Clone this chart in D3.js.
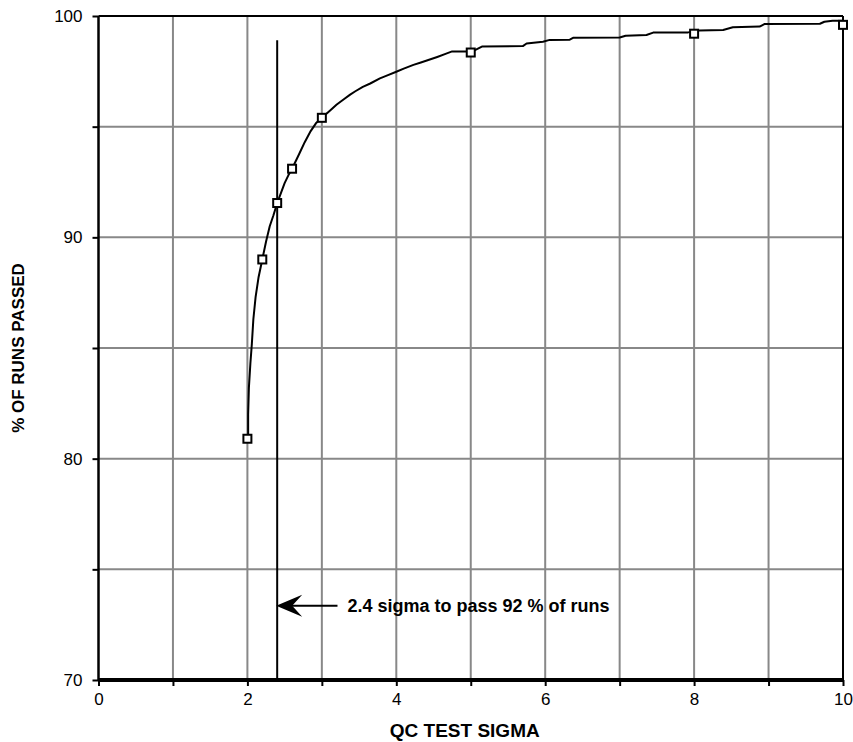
<!DOCTYPE html>
<html>
<head>
<meta charset="utf-8">
<script src="https://cdn.jsdelivr.net/npm/d3@7"></script>
<style>
    body { margin: 0; background: #fff; }
    #chart { width: 853px; height: 742px; }
    text { font-family: "Liberation Sans", Arial, sans-serif; }
</style>
</head>
<body>
<div id="chart"></div>
<script>

// Points marked with squares (QC test sigma, % of runs passed)
const markerSigma = [2, 2.2, 2.4, 2.6, 3, 5, 8, 10];
const markerPassed = [80.9, 89.0, 91.55, 93.1, 95.4, 98.35, 99.2, 99.6];

// Pass curve
const curveSigma = [2.01, 2.01, 2.02, 2.04, 2.06, 2.08, 2.11, 2.15, 2.2, 2.25, 2.3, 2.35, 2.4, 2.45, 2.5, 2.55,
    2.6, 2.7, 2.77, 2.85, 2.92, 3.0, 3.1, 3.2, 3.3, 3.38, 3.45, 3.55, 3.65, 3.78, 3.88, 4.0, 4.1, 4.23, 4.33,
    4.43, 4.55, 4.67, 4.75, 4.97, 5.05, 5.15, 5.7, 5.75, 5.97, 6.06, 6.33, 6.38, 7.0, 7.08, 7.36, 7.45, 7.92,
    8.07, 8.39, 8.52, 8.88, 8.95, 9.69, 9.75, 9.86, 10.0];
const curvePassed = [80.9, 82.0, 83.2, 84.3, 85.2, 86.3, 87.3, 88.2, 89.0, 89.8, 90.5, 91.0, 91.55, 92.0, 92.45, 92.8,
    93.1, 93.8, 94.3, 94.8, 95.15, 95.4, 95.7, 96.0, 96.25, 96.45, 96.6, 96.8, 96.95, 97.18, 97.32, 97.48, 97.62, 97.79, 97.9,
    98.01, 98.15, 98.3, 98.4, 98.4, 98.45, 98.62, 98.64, 98.76, 98.84, 98.92, 98.93, 99.02, 99.03, 99.11, 99.14, 99.25, 99.26,
    99.34, 99.37, 99.49, 99.52, 99.64, 99.65, 99.74, 99.79, 99.79];

// Cut-off line and its note
const cutoffSigma = 2.4;
const cutoffTop = 98.9;
const arrowFrom = [3.21, 73.35];
const noteText = "2.4 sigma to pass 92 % of runs";

// Axis ticks
const xTickValues = [0, 1, 2, 3, 4, 5, 6, 7, 8, 9, 10];
const xTickLabels = [0, 2, 4, 6, 8, 10];
const yTickValues = [70, 75, 80, 85, 90, 95, 100];
const yTickLabels = [70, 80, 90, 100];
const xTitle = "QC TEST SIGMA";
const yTitle = "% OF RUNS PASSED";


class SigmaChart {
    constructor(parentElement){
        this.parentElement = parentElement;
        this.initVis();
    }

    initVis(){
        let vis = this;

        vis.margin = {top: 16, right: 10, bottom: 62, left: 98.5};
        vis.width = 853 - vis.margin.left - vis.margin.right;
        vis.height = 742 - vis.margin.top - vis.margin.bottom;

        vis.svg = d3.select("#" + vis.parentElement).append("svg")
            .attr("width", 853)
            .attr("height", 742)
            .append("g")
            .attr("transform", `translate(${vis.margin.left}, ${vis.margin.top})`);

        // Scales
        vis.x = d3.scaleLinear().domain([0, 10]).range([0, vis.width]);
        vis.y = d3.scaleLinear().domain([70, 100]).range([vis.height, 0]);

        // Grid
        vis.svg.append("g")
            .attr("class", "grid")
            .selectAll("line.vgrid")
            .data(xTickValues.slice(1, -1))
            .enter().append("line")
            .attr("x1", d => vis.x(d)).attr("x2", d => vis.x(d))
            .attr("y1", 0).attr("y2", vis.height)
            .attr("stroke", "#888").attr("stroke-width", 2);

        vis.svg.select(".grid")
            .selectAll("line.hgrid")
            .data(yTickValues.slice(1, -1))
            .enter().append("line")
            .attr("x1", 0).attr("x2", vis.width)
            .attr("y1", d => vis.y(d)).attr("y2", d => vis.y(d))
            .attr("stroke", "#888").attr("stroke-width", 2);

        // Frame top and right
        vis.svg.append("line")
            .attr("x1", 0).attr("x2", vis.x(10))
            .attr("y1", vis.y(100)).attr("y2", vis.y(100))
            .attr("stroke", "#000").attr("stroke-width", 2);
        vis.svg.append("line")
            .attr("x1", vis.x(10)).attr("x2", vis.x(10))
            .attr("y1", vis.y(100)).attr("y2", vis.height)
            .attr("stroke", "#000").attr("stroke-width", 2);

        // Axes
        vis.xAxis = d3.axisBottom(vis.x)
            .tickValues(xTickValues)
            .tickSize(6)
            .tickPadding(7)
            .tickFormat(d => xTickLabels.includes(d) ? d : "");
        vis.yAxis = d3.axisLeft(vis.y)
            .tickValues(yTickValues)
            .tickSize(6)
            .tickPadding(10)
            .tickFormat(d => yTickLabels.includes(d) ? d : "");

        let xg = vis.svg.append("g")
            .attr("class", "x-axis axis")
            .attr("transform", `translate(0, ${vis.height})`)
            .call(vis.xAxis);
        let yg = vis.svg.append("g")
            .attr("class", "y-axis axis")
            .call(vis.yAxis);

        [xg, yg].forEach(g => {
            g.selectAll("text")
                .style("font-size", "17px")
                .style("font-family", "Liberation Sans, Arial, sans-serif")
                .attr("fill", "#000");
            g.selectAll(".tick line").attr("stroke", "#000").attr("stroke-width", 2);
        });
        xg.select(".domain").attr("stroke", "#000").attr("stroke-width", 4)
            .attr("d", `M0,0H${vis.width}`);
        yg.select(".domain").attr("stroke", "#000").attr("stroke-width", 2.5)
            .attr("d", `M0,${vis.height}V0`);

        // Axis titles
        vis.svg.append("text")
            .attr("x", vis.width / 2 - 6)
            .attr("y", vis.height + 57)
            .attr("text-anchor", "middle")
            .style("font-size", "19px")
            .style("font-weight", "bold")
            .text(xTitle);

        vis.svg.append("text")
            .attr("transform", `translate(${-vis.margin.left + 24}, ${vis.y(85)}) rotate(-90)`)
            .attr("text-anchor", "middle")
            .style("font-size", "17px")
            .style("font-weight", "bold")
            .text(yTitle);

        vis.updateVis();
    }

    updateVis(){
        let vis = this;

        // Cut-off line at 2.4 sigma
        vis.svg.append("line")
            .attr("x1", vis.x(cutoffSigma)).attr("x2", vis.x(cutoffSigma))
            .attr("y1", vis.y(cutoffTop)).attr("y2", vis.height)
            .attr("stroke", "#000").attr("stroke-width", 2);

        // Pass curve
        let curve = curveSigma.map((d, i) => [d, curvePassed[i]]);
        vis.svg.append("path")
            .datum(curve)
            .attr("fill", "none")
            .attr("stroke", "#000")
            .attr("stroke-width", 2)
            .attr("stroke-linejoin", "round")
            .attr("d", d3.line().x(d => vis.x(d[0])).y(d => vis.y(d[1])));

        // Square markers
        vis.svg.selectAll(".marker")
            .data(markerSigma.map((d, i) => [d, markerPassed[i]]))
            .enter().append("rect")
            .attr("class", "marker")
            .attr("x", d => vis.x(d[0]) - 4)
            .attr("y", d => vis.y(d[1]) - 4)
            .attr("width", 8)
            .attr("height", 8)
            .attr("fill", "#fff")
            .attr("stroke", "#000")
            .attr("stroke-width", 2);

        // Arrow pointing at the cut-off line
        let tipX = vis.x(cutoffSigma) - 1, tipY = vis.y(arrowFrom[1]);
        vis.svg.append("line")
            .attr("x1", vis.x(arrowFrom[0])).attr("x2", tipX + 14)
            .attr("y1", tipY).attr("y2", tipY)
            .attr("stroke", "#000").attr("stroke-width", 2);
        vis.svg.append("path")
            .attr("d", `M${tipX},${tipY} L${tipX + 26},${tipY - 11} L${tipX + 16},${tipY} L${tipX + 26},${tipY + 11} Z`)
            .attr("fill", "#000");

        vis.svg.append("text")
            .attr("x", vis.x(arrowFrom[0]) + 10)
            .attr("y", tipY + 6)
            .style("font-size", "18px")
            .style("font-weight", "bold")
            .text(noteText);
    }
}

let sigmaChart = new SigmaChart("chart");
</script>
</body>
</html>
